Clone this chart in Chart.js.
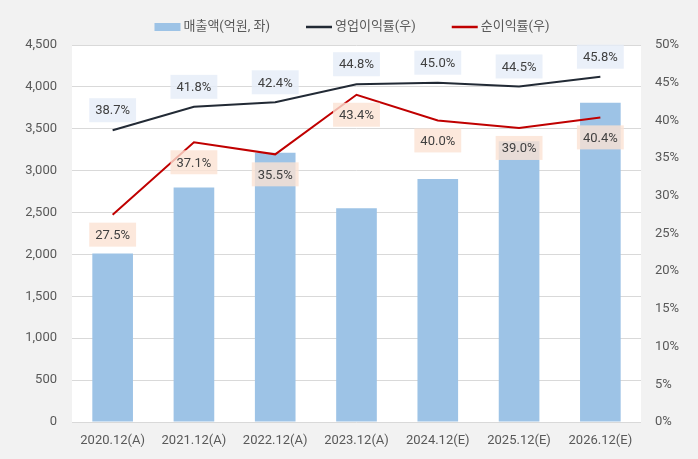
<!DOCTYPE html>
<html lang="ko">
<head>
    <meta charset="UTF-8">
    <title>매출액 및 이익률</title>
    <style>
        body {
            margin: 0;
            padding: 0;
            background-color: #f2f2f2;
        }
        #wrap {
            width: 698px;
            height: 459px;
        }
    </style>
</head>
<body>
    <div id="wrap"><canvas id="chart" width="698" height="459"></canvas></div>

    <script src="https://cdn.jsdelivr.net/npm/chart.js"></script>
    <script>
        const years = ['2020.12(A)', '2021.12(A)', '2022.12(A)', '2023.12(A)', '2024.12(E)', '2025.12(E)', '2026.12(E)'];
        const sales = [2010, 2800, 3215, 2550, 2900, 3350, 3810];        // 매출액(억원)
        const opMargin = [38.7, 41.8, 42.4, 44.8, 45.0, 44.5, 45.8];     // 영업이익률(%)
        const netMargin = [27.5, 37.1, 35.5, 43.4, 40.0, 39.0, 40.4];    // 순이익률(%)

        const FONT = "Roboto, 'Noto Sans CJK KR', sans-serif";
        const TEXT = '#595959';

        const legendItems = [
            { text: '매출액(억원, 좌)', color: '#9dc3e6', kind: 'box' },
            { text: '영업이익률(우)', color: '#222a35', kind: 'line' },
            { text: '순이익률(우)', color: '#c00000', kind: 'line' }
        ];

        // background, value labels and legend
        const decor = {
            id: 'decor',
            beforeDraw(chart) {
                const { ctx, chartArea: a, width, height } = chart;
                ctx.save();
                ctx.fillStyle = '#f2f2f2';
                ctx.fillRect(0, 0, width, height);
                ctx.fillStyle = '#ffffff';
                ctx.fillRect(a.left, a.top, a.right - a.left, a.bottom - a.top);
                ctx.restore();
            },
            afterDatasetsDraw(chart) {
                const ctx = chart.ctx;
                ctx.save();
                ctx.font = '13px ' + FONT;
                ctx.textAlign = 'center';
                ctx.textBaseline = 'middle';
                const sets = [
                    [1, -20, 'rgba(229, 236, 247, 0.8)'],
                    [2, 20, 'rgba(251, 226, 211, 0.8)']
                ];
                sets.forEach(([di, dy, bg]) => {
                    chart.getDatasetMeta(di).data.forEach((pt, i) => {
                        const txt = chart.data.datasets[di].data[i].toFixed(1) + '%';
                        const w = ctx.measureText(txt).width + 12;
                        const h = 24;
                        const x = pt.x, y = pt.y + dy;
                        ctx.fillStyle = bg;
                        ctx.fillRect(x - w / 2, y - h / 2, w, h);
                        ctx.fillStyle = '#404040';
                        ctx.fillText(txt, x, y + 1);
                    });
                });
                ctx.restore();
            },
            afterDraw(chart) {
                const ctx = chart.ctx;
                ctx.save();
                ctx.font = '13px ' + FONT;
                ctx.textBaseline = 'middle';
                ctx.textAlign = 'left';
                const icon = 26, gapIcon = 3, gapItem = 36, y = 27;
                const widths = legendItems.map(it => icon + gapIcon + ctx.measureText(it.text).width);
                const total = widths.reduce((s, w) => s + w, 0) + gapItem * (legendItems.length - 1);
                let x = chart.width / 2 + 3 - total / 2;
                legendItems.forEach((it, i) => {
                    if (it.kind === 'box') {
                        ctx.fillStyle = it.color;
                        ctx.fillRect(x, y - 4, icon, 8);
                    } else {
                        ctx.strokeStyle = it.color;
                        ctx.lineWidth = 2.5;
                        ctx.beginPath();
                        ctx.moveTo(x, y);
                        ctx.lineTo(x + icon, y);
                        ctx.stroke();
                    }
                    ctx.fillStyle = TEXT;
                    ctx.fillText(it.text, x + icon + gapIcon, y);
                    x += widths[i] + gapItem;
                });
                ctx.restore();
            }
        };

        new Chart(document.getElementById('chart'), {
            type: 'bar',
            data: {
                labels: years,
                datasets: [
                    {
                        type: 'bar',
                        label: '매출액(억원, 좌)',
                        data: sales,
                        backgroundColor: '#9dc3e6',
                        barPercentage: 0.5,
                        categoryPercentage: 1,
                        yAxisID: 'y',
                        order: 2
                    },
                    {
                        type: 'line',
                        label: '영업이익률(우)',
                        data: opMargin,
                        borderColor: '#222a35',
                        borderWidth: 2,
                        pointRadius: 0,
                        tension: 0,
                        yAxisID: 'y1',
                        order: 1
                    },
                    {
                        type: 'line',
                        label: '순이익률(우)',
                        data: netMargin,
                        borderColor: '#c00000',
                        borderWidth: 2,
                        pointRadius: 0,
                        tension: 0,
                        yAxisID: 'y1',
                        order: 1
                    }
                ]
            },
            options: {
                responsive: false,
                animation: false,
                layout: { padding: { top: 45, left: 0, right: 0, bottom: 0 } },
                plugins: {
                    legend: { display: false },
                    tooltip: { enabled: false }
                },
                scales: {
                    x: {
                        grid: { display: false, drawTicks: false },
                        border: { display: false },
                        ticks: { color: TEXT, font: { family: FONT, size: 13 }, padding: 11, maxRotation: 0 },
                        afterFit(s) { s.height = 37; }
                    },
                    y: {
                        position: 'left',
                        min: 0,
                        max: 4500,
                        ticks: {
                            stepSize: 500,
                            color: TEXT,
                            font: { family: FONT, size: 13 },
                            padding: 15,
                            callback: v => v.toLocaleString('en-US')
                        },
                        grid: { color: '#d9d9d9', drawTicks: false },
                        border: { display: false },
                        afterFit(s) { s.width = 72; }
                    },
                    y1: {
                        position: 'right',
                        min: 0,
                        max: 50,
                        ticks: {
                            stepSize: 5,
                            color: TEXT,
                            font: { family: FONT, size: 13 },
                            padding: 14,
                            callback: v => v + '%'
                        },
                        grid: { display: false, drawTicks: false },
                        border: { display: false },
                        afterFit(s) { s.width = 57; }
                    }
                }
            },
            plugins: [decor]
        });
    </script>
</body>
</html>
